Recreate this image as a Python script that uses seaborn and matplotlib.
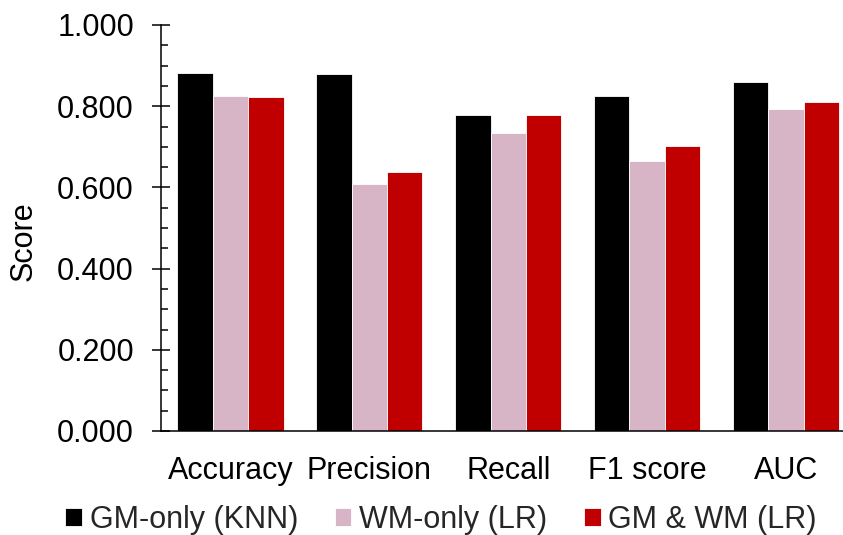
import matplotlib
matplotlib.use("Agg")
import matplotlib.pyplot as plt
import matplotlib.ticker as mticker
from matplotlib.patches import Patch
import seaborn as sns
import pandas as pd

categories = ["Accuracy", "Precision", "Recall", "F1 score", "AUC"]
series_names = ["GM-only (KNN)", "WM-only (LR)", "GM & WM (LR)"]
gm_only_knn = [0.881, 0.879, 0.778, 0.826, 0.859]
wm_only_lr = [0.825, 0.608, 0.733, 0.664, 0.793]
gm_wm_lr = [0.823, 0.637, 0.778, 0.701, 0.810]
colors = ["#000000", "#D8B5C6", "#C00000"]
y_ticks = [0.0, 0.2, 0.4, 0.6, 0.8, 1.0]

rows = []
for name, vals in zip(series_names, [gm_only_knn, wm_only_lr, gm_wm_lr]):
    for c, v in zip(categories, vals):
        rows.append({"Metric": c, "Model": name, "Score": v})
df = pd.DataFrame(rows)

sns.set_theme(style="white")
plt.rcParams["font.family"] = ["Liberation Sans", "DejaVu Sans"]

FS = 22
W, H = 843, 535
fig = plt.figure(figsize=(W / 100, H / 100), dpi=100)
ax_left, ax_right_px = 161, 161 + 5 * 138.9
ax_top, ax_bot = 25, 431
ax = fig.add_axes([ax_left / W, 1 - ax_bot / H, (ax_right_px - ax_left) / W, (ax_bot - ax_top) / H])

sns.barplot(data=df, x="Metric", y="Score", hue="Model", order=categories,
            hue_order=series_names, palette=colors, saturation=1, width=0.765, gap=0,
            edgecolor="white", linewidth=0.6, ax=ax, legend=False)

ax.set_xlim(-0.5, 4.5)
ax.set_ylim(0, 1.0)
ax.set_yticks(y_ticks)
ax.yaxis.set_major_formatter(mticker.FormatStrFormatter("%.3f"))
ax.yaxis.set_minor_locator(mticker.MultipleLocator(0.05))
ax.tick_params(axis="y", which="major", direction="inout", length=13, width=1.1,
               pad=13, labelsize=FS, left=True, color="black", labelcolor="black")
ax.tick_params(axis="y", which="minor", direction="in", length=5, width=1.1, left=True, color="black")
ax.tick_params(axis="x", length=0, pad=18, labelsize=FS, labelcolor="black")

for s in ["top", "right"]:
    ax.spines[s].set_visible(False)
for s in ["left", "bottom"]:
    ax.spines[s].set_color("black")
    ax.spines[s].set_linewidth(1.1)
ax.set_xlabel("")
ax.set_ylabel("Score", fontsize=FS, color="black")
ax.yaxis.set_label_coords((39 - ax_left) / (ax_right_px - ax_left), (ax_bot - 241) / (ax_bot - ax_top))

handles = [Patch(facecolor=c, edgecolor="white", linewidth=0.6) for c in colors]
fig.legend(handles, series_names, loc="center", ncol=3, frameon=False,
           bbox_to_anchor=(441 / W, 1 - 520 / H), fontsize=FS,
           handlelength=0.55, handleheight=0.55, handletextpad=0.25, columnspacing=1.2,
           borderpad=0, borderaxespad=0)

fig.savefig("out.png", dpi=100)
